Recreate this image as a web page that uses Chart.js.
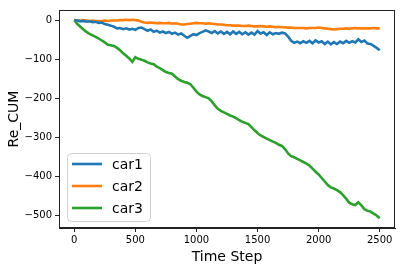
<!DOCTYPE html>
<html><head><meta charset="utf-8">
<script src="https://cdn.jsdelivr.net/npm/chart.js@4/dist/chart.umd.min.js"></script>
<style>html,body{margin:0;padding:0;background:#fff}#wrap{width:404px;height:270px}</style>
</head><body><div id="wrap"><canvas id="c" width="404" height="270"></canvas></div>
<script>
const timeSteps = [0,25,50,75,100,125,150,175,200,225,250,275,300,325,350,375,400,425,450,475,500,525,550,575,600,625,650,675,700,725,750,775,800,825,850,875,900,925,950,975,1000,1025,1050,1075,1100,1125,1150,1175,1200,1225,1250,1275,1300,1325,1350,1375,1400,1425,1450,1475,1500,1525,1550,1575,1600,1625,1650,1675,1700,1725,1750,1775,1800,1825,1850,1875,1900,1925,1950,1975,2000,2025,2050,2075,2100,2125,2150,2175,2200,2225,2250,2275,2300,2325,2350,2375,2400,2425,2450,2475,2500];
const car1 = [0,-1,-3,-2,-4,-3,-5,-4,-7,-6,-10,-12,-14,-17,-21,-20,-23,-21,-24,-22,-25,-20,-19,-23,-27,-24,-30,-27,-32,-29,-33,-30,-35,-32,-37,-34,-40,-45,-40,-36,-38,-33,-30,-26,-29,-33,-28,-34,-29,-35,-30,-36,-29,-35,-30,-36,-31,-37,-32,-37,-28,-34,-31,-38,-31,-36,-33,-35,-32,-34,-42,-53,-58,-55,-59,-54,-58,-53,-59,-52,-57,-54,-61,-55,-62,-56,-61,-55,-59,-53,-58,-54,-57,-49,-56,-52,-60,-61,-66,-71,-77];
const car2 = [0,-1,-1,0,-1,-2,-1,-2,-2,-2,-1,-2,-1,-1,-1,0,0,1,0,1,0,-1,-4,-6,-7,-6,-7,-8,-7,-8,-8,-7,-9,-8,-9,-11,-11,-10,-9,-8,-7,-8,-8,-9,-8,-9,-10,-11,-11,-12,-13,-13,-14,-14,-14,-15,-15,-14,-15,-16,-16,-15,-16,-17,-16,-17,-18,-17,-18,-18,-19,-19,-20,-20,-20,-20,-21,-20,-20,-20,-19,-20,-21,-22,-23,-24,-23,-22,-22,-21,-22,-21,-20,-21,-21,-21,-21,-21,-20,-21,-21];
const car3 = [0,-10,-17,-24,-30,-35,-39,-43,-47,-52,-57,-63,-64,-66,-71,-77,-85,-91,-98,-107,-95,-99,-101,-104,-108,-111,-113,-119,-123,-128,-133,-135,-137,-144,-151,-155,-158,-160,-164,-173,-183,-190,-194,-197,-200,-208,-218,-227,-232,-236,-240,-244,-247,-251,-256,-260,-263,-266,-274,-282,-289,-295,-299,-303,-307,-311,-314,-319,-322,-330,-341,-348,-351,-355,-359,-363,-367,-372,-380,-388,-395,-404,-413,-422,-428,-431,-435,-440,-448,-457,-467,-471,-473,-466,-474,-484,-488,-490,-495,-500,-507];
const seriesNames = ['car1','car2','car3'];
const xTicks = [0,500,1000,1500,2000,2500];
const yTicks = [0,-100,-200,-300,-400,-500];

const colors = ['#1f77b4','#ff7f0e','#2ca02c'];
const FONT = 'DejaVu Sans';
const pts = arr => timeSteps.map((t,i)=>({x:t,y:arr[i]}));

const framePlugin = {
  id:'frame',
  afterDraw(chart){
    const {ctx, chartArea:a} = chart;
    ctx.save();
    ctx.strokeStyle = '#222'; ctx.lineWidth = 1;
    ctx.strokeRect(Math.round(a.left)+0.5, Math.round(a.top)+0.5, Math.round(a.right-a.left)-1, Math.round(a.bottom-a.top)-1);
    // legend
    const bx=67.5, by=153.5, bw=83, bh=68, r=4;
    ctx.beginPath();
    ctx.moveTo(bx+r,by); ctx.lineTo(bx+bw-r,by); ctx.quadraticCurveTo(bx+bw,by,bx+bw,by+r);
    ctx.lineTo(bx+bw,by+bh-r); ctx.quadraticCurveTo(bx+bw,by+bh,bx+bw-r,by+bh);
    ctx.lineTo(bx+r,by+bh); ctx.quadraticCurveTo(bx,by+bh,bx,by+bh-r);
    ctx.lineTo(bx,by+r); ctx.quadraticCurveTo(bx,by,bx+r,by); ctx.closePath();
    ctx.fillStyle='rgba(255,255,255,0.8)'; ctx.fill();
    ctx.strokeStyle='#d0d0d0'; ctx.lineWidth=1; ctx.stroke();
    const rows=[164,186,208];
    chart.data.datasets.forEach((ds,i)=>{
      ctx.beginPath(); ctx.strokeStyle=ds.borderColor; ctx.lineWidth=2.6;
      ctx.moveTo(72,rows[i]); ctx.lineTo(102,rows[i]); ctx.stroke();
      ctx.fillStyle='#000'; ctx.font='14px "'+FONT+'"'; ctx.textBaseline='middle'; ctx.textAlign='left';
      ctx.fillText(ds.label,112,rows[i]+1);
    });
    ctx.restore();
  }
};

new Chart(document.getElementById('c'),{
  type:'line',
  data:{datasets:[car1,car2,car3].map((d,i)=>({label:seriesNames[i],data:pts(d),borderColor:colors[i],backgroundColor:colors[i],borderWidth:2.6,pointRadius:0,tension:0,fill:false}))},
  options:{
    responsive:false,animation:false,
    layout:{padding:{top:10,right:9,left:0,bottom:0}},
    plugins:{legend:{display:false},tooltip:{enabled:false}},
    scales:{
      x:{type:'linear',min:-125,max:2625,
        afterBuildTicks:s=>{s.ticks=xTicks.map(v=>({value:v}));},
        afterFit:s=>{s.height=42;},
        grid:{drawOnChartArea:false,drawTicks:true,tickLength:4,color:'#222'},
        border:{display:true,color:'#222'},
        ticks:{color:'#000',font:{family:FONT,size:10},padding:2,maxRotation:0,callback:v=>String(v)},
        title:{display:true,text:'Time Step',color:'#000',font:{family:FONT,size:14},padding:{top:0,bottom:4}}
      },
      y:{type:'linear',min:-532,max:26,
        afterBuildTicks:s=>{s.ticks=yTicks.map(v=>({value:v}));},
        afterFit:s=>{s.width=59;},
        grid:{drawOnChartArea:false,drawTicks:true,tickLength:4,color:'#222'},
        border:{display:true,color:'#222'},
        ticks:{color:'#000',font:{family:FONT,size:10},padding:3,callback:v=>String(v).replace('-','\u2212')},
        title:{display:true,text:'Re_CUM',color:'#000',font:{family:FONT,size:14},padding:{top:6,bottom:0}}
      }
    }
  },
  plugins:[framePlugin]
});
</script></body></html>
